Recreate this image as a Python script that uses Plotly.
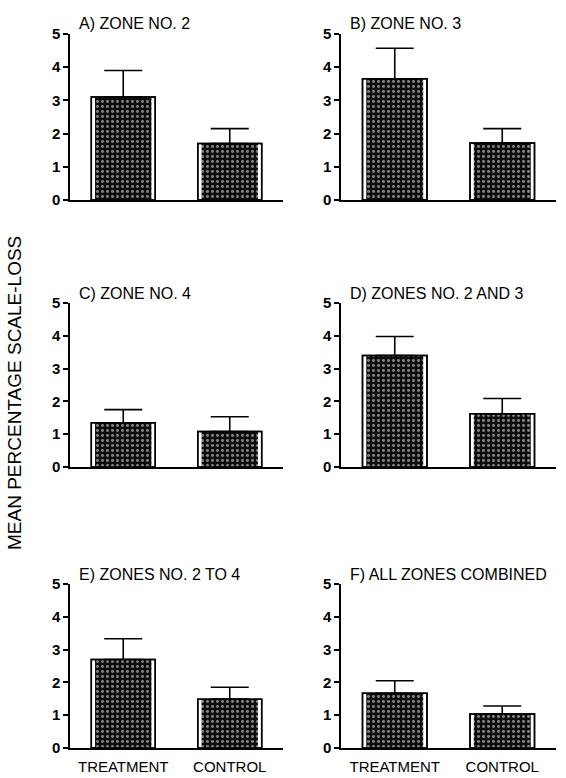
import plotly.graph_objects as go

# Mean percentage scale-loss (with upper standard error) per zone grouping
groups = ["TREATMENT", "CONTROL"]
panel_titles = [
    "A) ZONE NO. 2",
    "B) ZONE NO. 3",
    "C) ZONE NO. 4",
    "D) ZONES NO. 2 AND 3",
    "E) ZONES NO. 2 TO 4",
    "F) ALL ZONES COMBINED",
]
treatment_mean = [3.10, 3.65, 1.35, 3.40, 2.70, 1.67]
treatment_se = [0.80, 0.92, 0.40, 0.58, 0.63, 0.38]
control_mean = [1.70, 1.72, 1.08, 1.62, 1.49, 1.04]
control_se = [0.45, 0.43, 0.45, 0.47, 0.36, 0.24]
y_ticks = [0, 1, 2, 3, 4, 5]

W, H = 566, 778
col_px = [(70, 283), (341, 556)]
row_px = [(34, 200), (303, 467), (584, 748)]

FONT = "Liberation Sans, Arial, sans-serif"

fig = go.Figure()
layout = {}

for i, title in enumerate(panel_titles):
    r, c = divmod(i, 2)
    n = i + 1
    xa = "x" if n == 1 else f"x{n}"
    ya = "y" if n == 1 else f"y{n}"
    means = [treatment_mean[i], control_mean[i]]
    ses = [treatment_se[i], control_se[i]]

    # white base with black outline
    fig.add_trace(go.Bar(
        x=groups, y=means, width=0.6, xaxis=xa, yaxis=ya,
        marker=dict(color="white", line=dict(color="black", width=1.5)),
        showlegend=False, hoverinfo="skip",
    ))
    # stippled inner fill
    fig.add_trace(go.Bar(
        x=groups, y=means, width=0.53, xaxis=xa, yaxis=ya,
        marker=dict(
            color="black",
            line=dict(width=0),
            pattern=dict(shape=".", bgcolor="#0d0d0d", fgcolor="white",
                         size=5, solidity=0.28, fillmode="overlay"),
        ),
        showlegend=False, hoverinfo="skip",
    ))
    # outline on top with one-sided error bars
    fig.add_trace(go.Bar(
        x=groups, y=means, width=0.6, xaxis=xa, yaxis=ya,
        marker=dict(color="rgba(0,0,0,0)", line=dict(color="black", width=1.5)),
        error_y=dict(type="data", symmetric=False, array=ses,
                     arrayminus=[0, 0], color="black", thickness=1.6, width=19),
        showlegend=False, hoverinfo="skip",
    ))

    x0, x1 = col_px[c]
    y0, y1 = row_px[r]
    xkey = "xaxis" if n == 1 else f"xaxis{n}"
    ykey = "yaxis" if n == 1 else f"yaxis{n}"
    layout[xkey] = dict(
        domain=[x0 / W, x1 / W], anchor=ya,
        range=[-0.5, 1.5], showline=True, linecolor="black", linewidth=1.5,
        showgrid=False, zeroline=False, ticks="",
        showticklabels=(r == 2), ticklabelstandoff=4,
        tickfont=dict(family=FONT, size=15, color="black"),
        automargin=False, fixedrange=True,
    )
    layout[ykey] = dict(
        domain=[1 - y1 / H, 1 - y0 / H], anchor=xa,
        range=[0, 5], tickvals=y_ticks, showline=True, linecolor="black",
        linewidth=1.5, showgrid=False, zeroline=False,
        ticks="outside", ticklen=5, tickwidth=1.5, tickcolor="black",
        tickfont=dict(family=FONT, size=15, color="black", weight="bold"),
        automargin=False, fixedrange=True,
    )
    fig.add_annotation(
        text=title, xref="paper", yref="paper",
        x=(x0 + 7) / W, y=1 - (y0 - 10) / H,
        xanchor="left", yanchor="middle", showarrow=False,
        font=dict(family=FONT, size=16, color="black"),
    )

fig.add_annotation(
    text="MEAN PERCENTAGE SCALE-LOSS", xref="paper", yref="paper",
    x=14 / W, y=1 - 393 / H, textangle=-90,
    xanchor="center", yanchor="middle", showarrow=False,
    font=dict(family=FONT, size=19, color="black"),
)

fig.update_layout(
    width=W, height=H, barmode="overlay",
    margin=dict(l=0, r=0, t=0, b=0),
    paper_bgcolor="white", plot_bgcolor="white",
    **layout,
)

fig.write_html("out.html", config={"displayModeBar": False})
